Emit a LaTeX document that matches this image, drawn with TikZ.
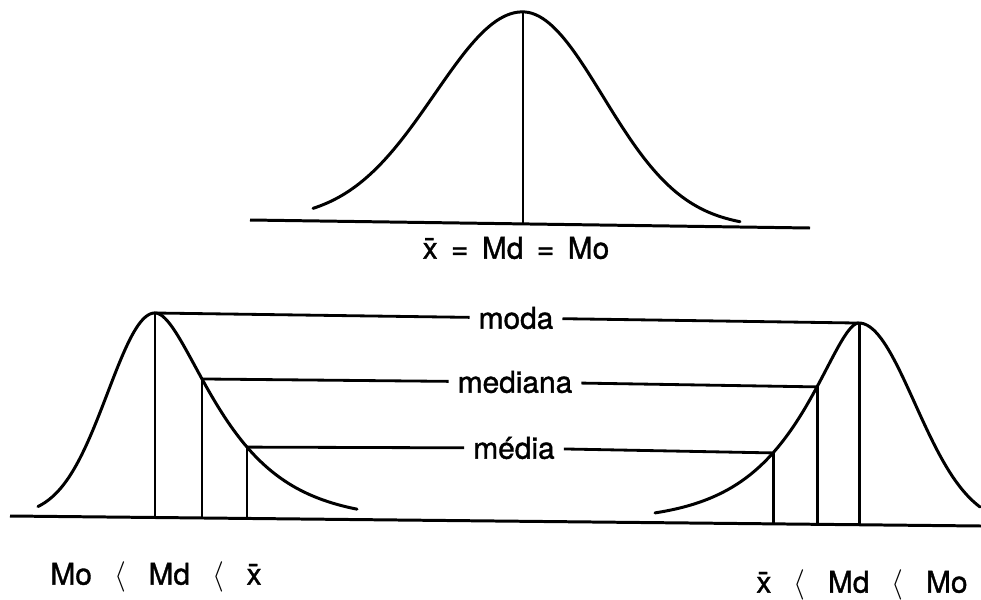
\documentclass[tikz,border=0pt]{standalone}
\usepackage{fontspec}
\setmainfont{TeX Gyre Heros}
\newfontfamily\lblfont{TeX Gyre Heros}[FakeBold=1.2]
\usetikzlibrary{calc}

\begin{document}
\begin{tikzpicture}[x=0.02cm, y=-0.02cm,
    curve/.style={line width=1.7pt, line cap=round},
    axis/.style={line width=1.7pt},
    tick/.style={line width=1.7pt},
    conn/.style={line width=1.6pt},
    lbl/.style={font=\lblfont\fontsize{17}{20}\selectfont, inner sep=5pt},
    declare function={
        topbase(\t)=220+(\t-250)*0.01434;
        topcurve(\t)=topbase(\t)-212*exp(-((\t-523)/100)*((\t-523)/100)/((\t<523)*1.56+(\t>=523)*1.28));
        botbase(\t)=516+(\t-10)*0.0103;
        lcurve(\t)=botbase(\t)-204.5*exp(-((\t-155)/100)*((\t-155)/100)/((\t<155)*0.45+(\t>=155)*(0.33+0.515*(\t-155)/100)));
        rcurve(\t)=botbase(\t)-201.7*exp(-((\t-859)/100)*((\t-859)/100)/((\t>859)*0.62+(\t<=859)*(0.2226+0.564*(859-\t)/100)));
    }
]
    \useasboundingbox (0,0) rectangle (981,599);

    % Symmetric curve
    \coordinate (tl) at (250,220);
    \coordinate (tr) at (810,228);
    \draw[axis] (tl) -- (tr);
    \draw[curve] plot[domain=313:740, samples=120] (\x, {topcurve(\x)});
    \coordinate (tpk) at (523,{topcurve(523)});
    \coordinate (tft) at (523,{topbase(523)});
    \draw[tick] (tpk) -- (tft);
    \node[lbl] (tlab) at (516,248) {\={x}\hspace{0.45em}=\hspace{0.45em}Md\hspace{0.45em}=\hspace{0.45em}Mo};

    % Bottom axis
    \coordinate (bl) at (10,516);
    \coordinate (br) at (981,526);
    \draw[axis] (bl) -- (br);

    % Left curve (positive skew)
    \draw[curve] plot[domain=38:357, samples=160] (\x, {lcurve(\x)});
    \coordinate (lmo) at (155,{lcurve(155)});
    \coordinate (lmd) at (202,{lcurve(202)});
    \coordinate (lme) at (247,{lcurve(247)});
    \coordinate (lmof) at (155,{botbase(155)});
    \coordinate (lmdf) at (202,{botbase(202)});
    \coordinate (lmef) at (247,{botbase(247)});
    \draw[tick] (lmo) -- (lmof);
    \draw[tick] (lmd) -- (lmdf);
    \draw[tick] (lme) -- (lmef);

    % Right curve (negative skew)
    \draw[curve] plot[domain=655:980, samples=160] (\x, {rcurve(\x)});
    \coordinate (rmo) at (859,{rcurve(859)});
    \coordinate (rmd) at (817,{rcurve(817)});
    \coordinate (rme) at (773,{rcurve(773)});
    \coordinate (rmof) at (859,{botbase(859)});
    \coordinate (rmdf) at (817,{botbase(817)});
    \coordinate (rmef) at (773,{botbase(773)});
    \draw[tick] (rmo) -- (rmof);
    \draw[tick] (rmd) -- (rmdf);
    \draw[tick] (rme) -- (rmef);

    % Labels and connectors
    \node[lbl] (moda) at (516,318) {moda};
    \node[lbl] (mediana) at (515,382) {mediana};
    \node[lbl] (media) at (514,448) {média};
    \draw[conn] (lmo) -- (moda) -- (rmo);
    \draw[conn] (lmd) -- (mediana) -- (rmd);
    \draw[conn] (lme) -- (media) -- (rme);

    \node[lbl] (lord) at (156,577) {Mo\hspace{0.75em}$\langle$\hspace{0.75em}Md\hspace{0.75em}$\langle$\hspace{0.75em}\={x}};
    \node[lbl] (rord) at (862,585) {\={x}\hspace{0.75em}$\langle$\hspace{0.75em}Md\hspace{0.75em}$\langle$\hspace{0.75em}Mo};
\end{tikzpicture}
\end{document}
